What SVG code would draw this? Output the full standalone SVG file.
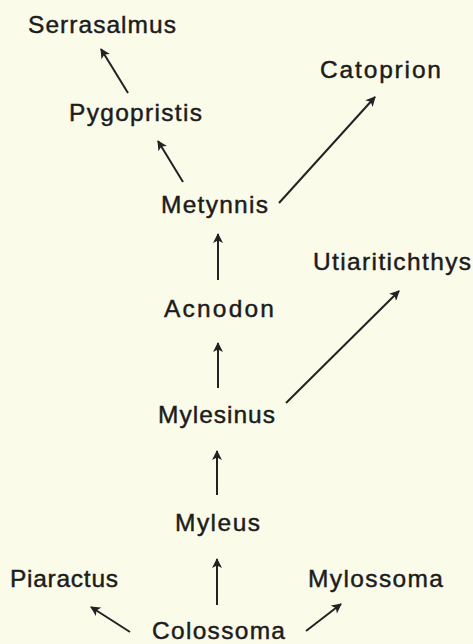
<svg xmlns="http://www.w3.org/2000/svg" width="473" height="644" viewBox="0 0 473 644">
  <defs>
    <style>
      .lbl { font-family: "Liberation Sans", "DejaVu Sans", sans-serif; font-size: 24.5px; fill: #1c1c1c; stroke: #1c1c1c; stroke-width: 0.45; }
      .edge { stroke: #222; stroke-width: 2; fill: none; marker-end: url(#ah); }
    </style>
    <marker id="ah" viewBox="0 0 10 10" refX="9" refY="5" markerWidth="11" markerHeight="10" markerUnits="userSpaceOnUse" orient="auto">
      <path d="M0,0 L10,5 L0,10 L2.5,5 z" fill="#222"/>
    </marker>
  </defs>
  <rect width="473" height="644" fill="#fbfbea"/>

  <g id="connectors">
    <line class="edge" x1="128" y1="93" x2="101" y2="49"/>
    <line class="edge" x1="183" y1="182" x2="158" y2="141"/>
    <line class="edge" x1="279" y1="203" x2="375" y2="97"/>
    <line class="edge" x1="218" y1="280" x2="218" y2="234"/>
    <line class="edge" x1="218" y1="388" x2="218" y2="343"/>
    <line class="edge" x1="286" y1="403" x2="399" y2="291"/>
    <line class="edge" x1="217" y1="495" x2="217" y2="451"/>
    <line class="edge" x1="217" y1="605" x2="217" y2="559"/>
    <line class="edge" x1="130" y1="632" x2="91" y2="607"/>
    <line class="edge" x1="306" y1="631" x2="341" y2="604"/>
  </g>

  <g id="serrasalmus"><text class="lbl" x="28" y="33" textLength="148" lengthAdjust="spacing">Serrasalmus</text></g>
  <g id="catoprion"><text class="lbl" x="320" y="78" textLength="121" lengthAdjust="spacing">Catoprion</text></g>
  <g id="pygopristis"><text class="lbl" x="69" y="121" textLength="133" lengthAdjust="spacing">Pygopristis</text></g>
  <g id="metynnis"><text class="lbl" x="161" y="213" textLength="107" lengthAdjust="spacing">Metynnis</text></g>
  <g id="utiaritichthys"><text class="lbl" x="313" y="270" textLength="158" lengthAdjust="spacing">Utiaritichthys</text></g>
  <g id="acnodon"><text class="lbl" x="164" y="317" textLength="110" lengthAdjust="spacing">Acnodon</text></g>
  <g id="mylesinus"><text class="lbl" x="158" y="423" textLength="117" lengthAdjust="spacing">Mylesinus</text></g>
  <g id="myleus"><text class="lbl" x="175" y="531" textLength="85" lengthAdjust="spacing">Myleus</text></g>
  <g id="piaractus"><text class="lbl" x="10" y="587" textLength="108" lengthAdjust="spacing">Piaractus</text></g>
  <g id="mylossoma"><text class="lbl" x="308" y="587" textLength="135" lengthAdjust="spacing">Mylossoma</text></g>
  <g id="colossoma"><text class="lbl" x="152" y="639" textLength="133" lengthAdjust="spacing">Colossoma</text></g>
</svg>
